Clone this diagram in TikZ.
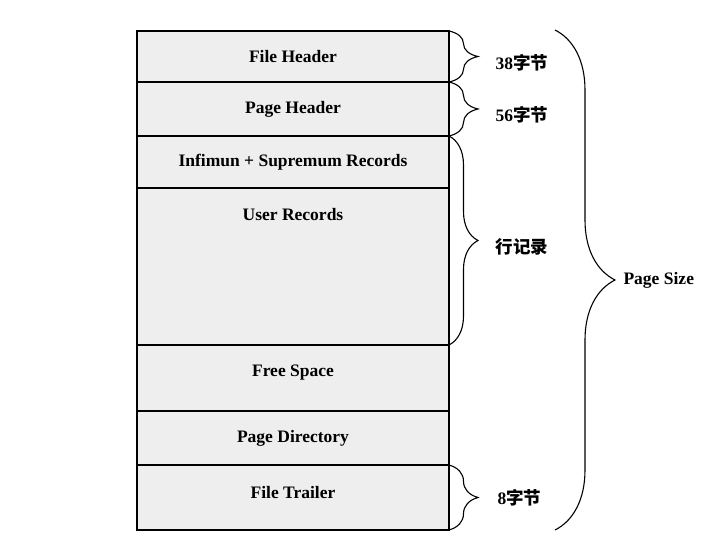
\documentclass[tikz,border=0pt]{standalone}
\usepackage{fontspec}
\setmainfont{Liberation Serif}
\newfontfamily\cjk{Noto Sans CJK SC}
\usetikzlibrary{positioning,decorations.pathreplacing}

\tikzset{
	row/.style={draw, line width=1.6pt, fill=gray!13, minimum width=312pt, inner sep=0pt,
		outer sep=0pt, font=\fontsize{17.5}{20}\selectfont\bfseries},
	brc/.style={decorate, decoration={brace, amplitude=#1}, line width=1.1pt},
	lbl/.style={anchor=west, inner sep=0pt, font=\fontsize{17.5}{20}\selectfont\bfseries}
}

\begin{document}
\begin{tikzpicture}[x=1pt, y=-1pt]
	\useasboundingbox (0,0) rectangle (716,545);
	% page layout
	\node[row, minimum height=51pt, anchor=north] (fh) at (293,31) {File Header};
	\node[row, minimum height=54pt, below=0pt of fh] (ph) {Page Header};
	\node[row, minimum height=52pt, below=0pt of ph] (inf) {Infimun + Supremum Records};
	\node[row, minimum height=157pt, below=0pt of inf] (ur) {};
	\node[font=\fontsize{17.5}{20}\selectfont\bfseries, below=17pt of ur.north] (urt) {User Records};
	\node[row, minimum height=66pt, below=0pt of ur] (fs) {};
	\node[font=\fontsize{17.5}{20}\selectfont\bfseries, yshift=5pt] (fst) at (fs) {Free Space};
	\node[row, minimum height=54pt, below=0pt of fs] (pd) {Page Directory};
	\node[row, minimum height=65pt, below=0pt of pd] (ft) {};
	\node[font=\fontsize{17.5}{20}\selectfont\bfseries, yshift=5pt] (ftt) at (ft) {File Trailer};
	% braces
	\draw[brc=29pt] (fh.north east) -- (fh.south east)
		node[lbl, midway, xshift=46pt, yshift=-6pt] (fhl) {38{\cjk 字节}};
	\draw[brc=29pt] (ph.north east) -- (ph.south east)
		node[lbl, midway, xshift=46pt, yshift=-6pt] (phl) {56{\cjk 字节}};
	\draw[brc=29pt] (inf.north east) -- (ur.south east)
		node[lbl, midway, xshift=46pt, yshift=-6pt] (rl) {\cjk 行记录};
	\draw[brc=29pt] (ft.north east) -- (ft.south east)
		node[lbl, midway, xshift=48pt] (ftl) {8{\cjk 字节}};
	\coordinate (pst) at (555,30);
	\coordinate (psb) at (555,530);
	\draw[brc=60pt] (pst) -- (psb)
		node[lbl, midway, xshift=68pt] (psl) {Page Size};
\end{tikzpicture}
\end{document}
